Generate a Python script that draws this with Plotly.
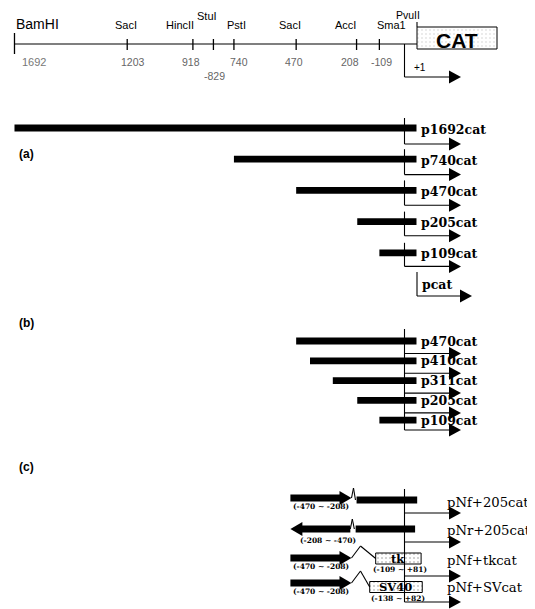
import plotly.graph_objects as go

# ---------------- data ----------------
site_names = ["BamHI", "SacI", "HincII", "StuI", "PstI", "SacI", "AccI", "Sma1"]
site_pos = [1692, 1203, 918, 829, 740, 470, 208, 109]
site_pos_labels = ["1692", "1203", "918", "-829", "740", "470", "208", "-109"]

a_names = ["p1692cat", "p740cat", "p470cat", "p205cat", "p109cat"]
a_starts = [1692, 740, 470, 205, 109]
promoterless_name = "pcat"

b_names = ["p470cat", "p410cat", "p311cat", "p205cat", "p109cat"]
b_starts = [470, 410, 311, 205, 109]

c_names = ["pNf+205cat", "pNr+205cat", "pNf+tkcat", "pNf+SVcat"]
c_frag_labels = ["(-470 ~ -208)", "(-208 ~ -470)", "(-470 ~ -208)", "(-470 ~ -208)"]
c_frag_dir = [1, -1, 1, 1]
c_frag_span = [(495, 230), (495, 235), (495, 230), (495, 230)]      # drawn span (bp upstream)
c_prom_names = ["", "", "tk", "SV40"]
c_prom_labels = ["", "", "(-109 ~ +81)", "(-138 ~ +82)"]
c_prom_span = [(-208, 55), (-212, 46), (-125, 72), (-151, 77)]      # drawn span (bp)
BAR_END = 52   # bp downstream of +1 where promoter bars stop

# ---------------- layout helpers ----------------
PAGE_W, PAGE_H = 535, 609
OFF = 8                     # default page margin of the html body
W, H = PAGE_W - OFF, PAGE_H - OFF
K = 0.2305                  # pixels per bp
X0_PX = 404.5               # page pixel column of +1


def dx(px):
    return px / K


XMIN = (OFF - X0_PX) / K
XMAX = (PAGE_W - X0_PX) / K

# label nudges (pixels) for the map text
name_shift = [0, -1, -13, -6, 3, -6, -11, 12]
num_shift = [0, 6, -2, 1, 5, -2, -7, 2]

shapes, ann, traces = [], [], []
LW = 1.1


def seg(x0, y0, x1, y1, w=LW, color="black"):
    shapes.append(dict(type="line", xref="x", yref="y", x0=x0, y0=y0, x1=x1, y1=y1,
                       line=dict(color=color, width=w)))


def thick(x0, x1, y, t=6.8):
    shapes.append(dict(type="rect", xref="x", yref="y", x0=x0, x1=x1, y0=y - t / 2, y1=y + t / 2,
                       fillcolor="black", line=dict(width=0)))


def head(tip, y, d=1, L=12, h=6.5):
    base = tip - d * dx(L)
    shapes.append(dict(type="path", xref="x", yref="y",
                       path=f"M {tip},{y} L {base},{y - h} L {base},{y + h} Z",
                       fillcolor="black", line=dict(width=0)))


def text(x, y, s, size, family="Liberation Sans", color="black", anchor="center", bold=False, xshift=0):
    ann.append(dict(x=x, y=y, xref="x", yref="y", text=f"<b>{s}</b>" if bold else s,
                    showarrow=False, xanchor=anchor, yanchor="middle", xshift=xshift,
                    font=dict(size=size, family=family, color=color)))


def stipple_box(x0, x1, yc, hgt, density=0.18):
    traces.append(go.Bar(x=[x1 - x0], base=[x0], y=[yc], width=[hgt], orientation="h",
                         marker=dict(color="white", line=dict(color="black", width=1),
                                     pattern=dict(shape=".", size=4, solidity=density,
                                                  fgcolor="#8a8a8a", bgcolor="white")),
                         showlegend=False, hoverinfo="skip"))


TIP = dx(56.5)
SERIF = "DejaVu Serif"

# ---------------- restriction map ----------------
MAP_Y = 44
CAT_L, CAT_R = dx(417 - X0_PX), dx(497 - X0_PX)
seg(-site_pos[0], MAP_Y, CAT_L, MAP_Y)
for i, (nm, p, pl) in enumerate(zip(site_names, site_pos, site_pos_labels)):
    if i == 0:
        seg(-p, 33, -p, 54, w=1.3)
        text(-p, 24, nm, 14, anchor="left", xshift=0)
        text(-p, 62, pl, 11, color="#777", anchor="left", xshift=6)
    else:
        seg(-p, 39, -p, 50, w=1.3)
        ly = 16 if nm == "StuI" else 25
        text(-p, ly, nm, 11, xshift=name_shift[i])
        py = 76 if pl == "-829" else 62
        text(-p, py, pl, 10.5, color="#666", xshift=num_shift[i])
# CAT box (PvuII site at its left edge)
stipple_box(CAT_L, CAT_R, 38, 22, density=0.08)
seg(CAT_L, 22, CAT_L, 27)
text(dx(408 - X0_PX), 14.5, "PvuII", 10.5)
text((CAT_L + CAT_R) / 2, 40, "CAT", 21, bold=True)
# +1 transcription start
seg(0, MAP_Y, 0, 77)
seg(0, 77, TIP - dx(11), 77)
head(TIP, 77)
text(dx(412 - X0_PX), 67, "+1", 10, anchor="left")

# ---------------- (a) deletion series ----------------
text(-site_pos[0], 154, "(a)", 12, bold=True, anchor="left", xshift=3)
A_Y0, A_DY = 128, 31.2
for i, (nm, st) in enumerate(zip(a_names, a_starts)):
    yb = A_Y0 + i * A_DY
    ya = yb + 16 - i * 0.6
    thick(-st, BAR_END, yb)
    seg(0, yb - 10, 0, ya)
    seg(0, ya, TIP - dx(11), ya)
    head(TIP, ya)
    text(BAR_END, yb + 1, nm, 12.5, family=SERIF, bold=True, anchor="left", xshift=3)
# promoterless pcat
yb = A_Y0 + len(a_names) * A_DY
xp = dx(417 - X0_PX)
seg(xp, yb - 12, xp, yb + 12)
seg(xp, yb + 12, TIP, yb + 12)
head(TIP + dx(11), yb + 12)
text(xp, yb, promoterless_name, 12.5, family=SERIF, bold=True, anchor="left", xshift=3)

# ---------------- (b) deletion series ----------------
text(-site_pos[0], 323, "(b)", 12, bold=True, anchor="left", xshift=3)
B_Y0, B_DY = 341, 19.8
seg(0, 329, 0, 430)
for i, (nm, st) in enumerate(zip(b_names, b_starts)):
    yb = B_Y0 + i * B_DY
    ya = yb + 12.5 if i < len(b_names) - 1 else 430
    thick(-st, BAR_END, yb)
    seg(0, ya, TIP - dx(11), ya)
    head(TIP, ya)
    text(BAR_END, yb, nm, 12.5, family=SERIF, bold=True, anchor="left", xshift=3)

# ---------------- (c) heterologous constructs ----------------
text(-site_pos[0], 467, "(c)", 12, bold=True, anchor="left", xshift=3)
c_frag_y = [498, 529, 558, 583]
c_arrow_y = [513, 542, 576, 602]
c_label_y = [502, 530, 560, 587]
seg(0, 489, 0, 602)
for i in range(len(c_names)):
    fy = c_frag_y[i]
    far, near = -c_frag_span[i][0], -c_frag_span[i][1]
    d = c_frag_dir[i]
    if d == 1:
        thick(far, near - dx(11), fy)
        head(near, fy, 1, L=12, h=7)
    else:
        thick(far + dx(11), near, fy)
        head(far, fy, -1, L=12, h=7)
    p0, p1 = c_prom_span[i]
    if c_prom_names[i]:
        bh = 11
        byc = fy + 0.5 if i == 2 else fy + 4
        # zigzag junction
        seg(near, fy, near + dx(9), fy - 12)
        seg(near + dx(9), fy - 12, p0, byc)
        stipple_box(p0, p1, byc, bh, density=0.2)
        text((p0 + p1) / 2, byc, c_prom_names[i], 11.5, family=SERIF, bold=True)
        text((p0 + p1) / 2 + dx(2), byc + 11, c_prom_labels[i], 7.5, family=SERIF, bold=True)
    else:
        by = fy + 2 if i == 0 else fy
        seg(near, fy, near + dx(2), fy - 10)
        seg(near + dx(2), fy - 10, near + dx(4), by)
        thick(p0, p1, by)
    lab_x = (far + near) / 2 + (dx(8) if d == -1 else 0)
    text(lab_x, fy + (8 if d == 1 else 11), c_frag_labels[i], 7.5, family=SERIF, bold=True)
    ya = c_arrow_y[i]
    seg(0, ya, TIP - dx(11), ya)
    head(TIP, ya)
    text(dx(445 - X0_PX), c_label_y[i], c_names[i], 13.2, family=SERIF, anchor="left")

fig = go.Figure(traces)
fig.update_layout(
    width=W, height=H, margin=dict(l=0, r=0, t=0, b=0),
    paper_bgcolor="white", plot_bgcolor="white",
    xaxis=dict(range=[XMIN, XMAX], visible=False, fixedrange=True),
    yaxis=dict(range=[PAGE_H, OFF], visible=False, fixedrange=True),
    shapes=shapes, annotations=ann, barmode="overlay", showlegend=False,
)
fig.write_html("out.html")
